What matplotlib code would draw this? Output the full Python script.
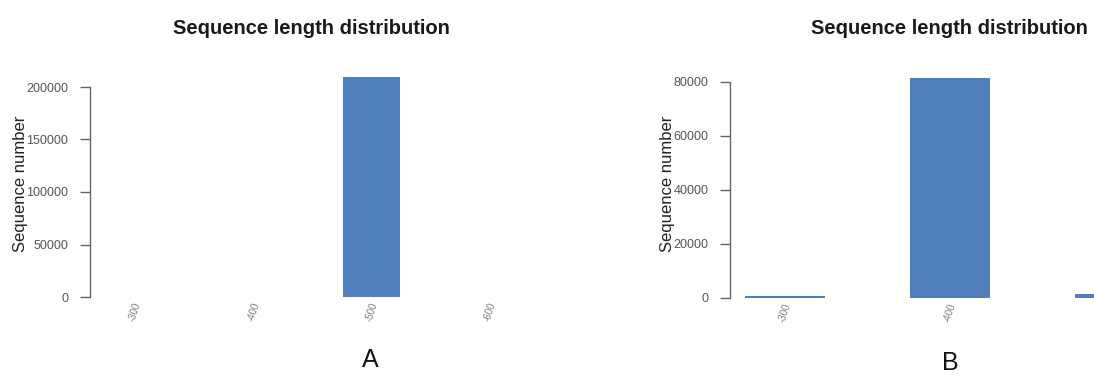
import matplotlib
matplotlib.use("Agg")
import matplotlib.pyplot as plt

plt.rcParams["font.family"] = ["Liberation Sans", "DejaVu Sans"]

# Panel A: read-length bins and counts
labels_a = ["-300", "-400", "-500", "-600"]
counts_a = [0, 0, 209500, 0]
yticks_a = [0, 50000, 100000, 150000, 200000]

# Panel B: read-length bins and counts
labels_b = ["-300", "-400", "-500"]
counts_b = [700, 81500, 1500]
yticks_b = [0, 20000, 40000, 60000, 80000]

W, H = 1094, 376
BAR_COLOR = "#4f80bd"
AXIS_COLOR = "#666666"
TEXT_COLOR = "#555555"

fig = plt.figure(figsize=(W / 100, H / 100), dpi=100)


def px_axes(left, right, top, bottom):
    return fig.add_axes([left / W, 1 - bottom / H, (right - left) / W, (bottom - top) / H])


def panel(ax, labels, counts, yticks, ymax, first_px, step_px, left_px, right_px, width):
    xs = list(range(len(labels)))
    ax.bar(xs, counts, width=width, color=BAR_COLOR, edgecolor="none")
    ax.set_xlim(-(first_px - left_px) / step_px, (right_px - first_px) / step_px)
    ax.set_ylim(0, ymax)
    for s in ("top", "right", "bottom"):
        ax.spines[s].set_visible(False)
    ax.spines["left"].set_bounds(yticks[0], yticks[-1])
    ax.spines["left"].set_color(AXIS_COLOR)
    ax.spines["left"].set_linewidth(1.0)
    ax.set_yticks(yticks)
    ax.set_yticklabels([str(v) for v in yticks])
    ax.tick_params(axis="y", length=7.2, width=1.0, color=AXIS_COLOR,
                   labelsize=9, labelcolor=TEXT_COLOR, pad=8.5)
    ax.set_xticks(xs)
    ax.set_xticklabels(labels, rotation=72, fontsize=7, color="#808080")
    ax.tick_params(axis="x", length=0, pad=3)
    for x, t in zip(xs, ax.get_xticklabels()):
        t.set_ha("center")
        t.set_va("top")
        # bins whose centre lies past the right edge of the canvas get no label
        if first_px + x * step_px > W:
            t.set_visible(False)
    ax.set_ylabel("Sequence number", fontsize=12, color="#222222", labelpad=-1)
    ax.patch.set_alpha(0)


ax_a = px_axes(90, 530, 70, 297)
panel(ax_a, labels_a, counts_a, yticks_a,
      (297 - 70) / 210 * 200000, 135, 118.3, 90, 530, 0.48)

ax_b = px_axes(730, 1168, 70, 298)
panel(ax_b, labels_b, counts_b, yticks_b,
      (298 - 70) / 216 * 80000, 785, 165, 730, 1168, 0.49)

# Panel titles
fig.text(311 / W, 1 - 28 / H, "Sequence length distribution",
         ha="center", va="center", fontsize=14.5, fontweight="bold", color="#1a1a1a")
fig.text(949 / W, 1 - 28 / H, "Sequence length distribution",
         ha="center", va="center", fontsize=14.5, fontweight="bold", color="#1a1a1a")

# Panel letters
fig.text(370 / W, 1 - 360 / H, "A", ha="center", va="center", fontsize=18, color="#111111")
fig.text(950 / W, 1 - 363 / H, "B", ha="center", va="center", fontsize=18, color="#111111")

fig.savefig("out.png", dpi=100)
